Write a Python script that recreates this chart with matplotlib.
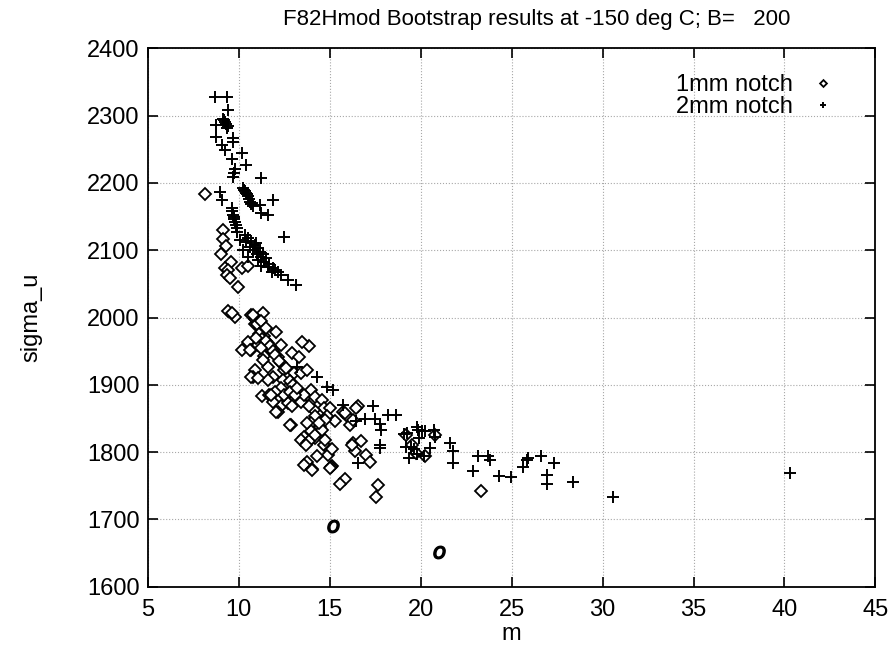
import matplotlib
matplotlib.use("Agg")
import matplotlib.pyplot as plt

plt.rcParams['font.family'] = ['Liberation Sans', 'DejaVu Sans']

# 1mm notch (diamonds)
m_1mm = [8.13, 9.15, 9.12, 9.30, 9.03, 9.55, 9.24, 9.43, 9.34, 9.52, 10.18, 10.51, 9.93,
         9.43, 9.79, 10.69, 11.32, 10.87, 11.14, 12.05, 11.41, 10.51, 10.69, 11.05, 11.60,
         11.78, 12.32, 12.95, 13.31, 11.41, 12.14, 12.32, 11.60, 10.87, 10.78, 11.32, 12.50,
         12.68, 11.87, 11.60, 12.41, 13.04, 13.40, 13.77, 13.86, 13.50, 11.28, 11.68, 12.14,
         12.32, 12.68, 12.95, 13.40, 12.14, 12.86, 13.77, 13.95, 14.20, 14.57, 14.66, 14.13,
         15.03, 15.30, 14.84, 14.20, 13.95, 14.48, 13.95, 13.58, 13.40, 13.77, 14.20, 14.66,
         15.03, 14.93, 14.30, 13.77, 13.58, 15.12, 15.75, 15.93, 16.29, 16.74, 16.38, 17.00,
         17.20, 16.56, 16.47, 15.84, 16.11, 16.29, 16.25, 15.12, 15.06, 14.03, 15.84, 15.57,
         17.68, 17.56, 23.33, 13.85, 14.21, 14.76, 14.58, 13.76, 13.58, 13.86, 14.76, 14.39,
         19.18, 19.72, 20.26, 19.50, 20.80,
         10.90, 11.00, 11.20, 11.10, 11.30, 11.50, 11.70, 11.90, 11.20, 10.95, 11.50, 12.00,
         12.20, 12.60, 12.80, 13.00, 12.30, 12.50, 12.80, 13.10, 13.20, 12.00, 11.90,
         9.60, 10.78, 10.15, 10.60, 10.69, 11.05, 11.78, 12.05, 12.82, 13.67, 14.03, 15.03]
s_1mm = [2184, 2130, 2116, 2106, 2094, 2083, 2073, 2071, 2063, 2058, 2073, 2076, 2045,
         2009, 2001, 2004, 2006, 1991, 1984, 1979, 1972, 1964, 1952, 1959, 1962,
         1952, 1959, 1948, 1941, 1943, 1942, 1932, 1927, 1922, 1912, 1937, 1922,
         1912, 1912, 1907, 1907, 1917, 1917, 1922, 1957, 1964, 1884, 1885, 1878,
         1868, 1873, 1868, 1875, 1860, 1841, 1885, 1893, 1882, 1878, 1865, 1863,
         1865, 1846, 1853, 1853, 1843, 1838, 1831, 1823, 1818, 1813, 1821, 1811,
         1803, 1796, 1794, 1786, 1781, 1779, 1860, 1853, 1813, 1816, 1801, 1796,
         1786, 1868, 1865, 1858, 1841, 1848, 1810, 1805, 1778, 1775, 1760, 1753,
         1751, 1733, 1743, 1817, 1826, 1818, 1833, 1843, 1885, 1868, 1848, 1843,
         1826, 1799, 1794, 1810, 1826,
         1998, 1990, 1995, 1975, 1968, 1965, 1958, 1950, 1955, 1970, 1985, 1945,
         1935, 1925, 1905, 1900, 1895, 1885, 1890, 1885, 1895, 1890, 1875,
         2006, 2004, 1952, 1952, 1912, 1910, 1885, 1860, 1841, 1811, 1774, 1776]

# two 1mm points that came out as italic "o" in the original
m_1mm_o = [15.19, 21.0]
s_1mm_o = [1691, 1652]

# 2mm notch (plus)
m_2mm = [8.70, 9.34, 9.43, 9.15, 9.25, 9.30, 9.40, 9.20, 9.35, 8.76, 8.76, 9.70, 9.70,
         9.07, 9.25, 9.60, 10.15, 10.42, 9.79, 9.70, 9.75, 11.20, 8.97, 9.07,
         10.25, 10.35, 10.40, 10.50, 10.55, 10.60, 10.70, 10.45, 10.30, 10.65, 10.80,
         11.87, 11.14, 11.23, 11.60, 9.60, 9.65, 9.70, 9.75, 9.80, 9.85, 9.72, 9.90,
         9.88, 10.33, 10.51, 10.69, 10.87, 11.05, 11.32, 11.50, 11.68, 11.87, 12.14,
         12.32, 12.68, 13.13, 12.50, 10.06, 10.24, 10.50, 11.05, 11.23, 10.60, 10.80,
         11.00, 11.20, 11.40, 11.60, 11.80, 12.00, 10.40, 10.95, 11.15,
         13.22, 14.30, 14.84, 15.20, 15.75, 17.37, 16.92, 17.47, 18.19, 18.64, 16.47,
         17.74, 17.83, 17.74, 17.74, 16.56, 19.10, 19.27, 19.82, 19.87, 20.08, 20.26,
         20.72, 20.81, 19.90, 19.17, 19.45, 19.63, 19.81, 20.18, 20.54, 19.36, 21.62,
         21.80, 21.80, 22.89, 23.16, 23.70, 23.80, 24.33, 24.96, 25.60, 25.84, 25.91,
         26.64, 27.31, 26.95, 26.92, 28.40, 30.57, 40.30]
s_2mm = [2328, 2328, 2309, 2295, 2291, 2288, 2285, 2293, 2282, 2286, 2268, 2266, 2261,
         2256, 2249, 2236, 2244, 2226, 2221, 2209, 2215, 2208, 2187, 2174,
         2193, 2188, 2185, 2180, 2176, 2172, 2170, 2183, 2190, 2168, 2165,
         2174, 2167, 2155, 2152, 2163, 2158, 2152, 2147, 2142, 2137, 2150, 2133,
         2127, 2123, 2118, 2113, 2108, 2103, 2095, 2088, 2080, 2073, 2068,
         2063, 2056, 2048, 2120, 2115, 2100, 2090, 2085, 2076, 2105, 2100,
         2095, 2090, 2083, 2075, 2068, 2070, 2112, 2110, 2098,
         1927, 1912, 1897, 1893, 1870, 1868, 1849, 1849, 1855, 1855, 1846,
         1842, 1833, 1811, 1806, 1784, 1827, 1829, 1838, 1833, 1831, 1831,
         1833, 1823, 1821, 1808, 1808, 1804, 1798, 1795, 1806, 1791, 1813,
         1801, 1784, 1772, 1794, 1794, 1789, 1764, 1763, 1778, 1789, 1791,
         1795, 1784, 1766, 1752, 1756, 1733, 1769]

x_ticks = [5, 10, 15, 20, 25, 30, 35, 40, 45]
y_ticks = [1600, 1700, 1800, 1900, 2000, 2100, 2200, 2300, 2400]

fig = plt.figure(figsize=(8.96, 6.52), dpi=100)
ax = fig.add_axes([0.165, 0.1, 0.812, 0.826])

ax.plot(m_1mm, s_1mm, linestyle='none', marker='D', markersize=6.3,
        markerfacecolor='white', markeredgecolor='black', markeredgewidth=1.3,
        label='1mm notch')
ax.plot(m_1mm_o, s_1mm_o, linestyle='none', marker='$o$', markersize=9,
        color='black')
ax.plot(m_2mm, s_2mm, linestyle='none', marker='+', markersize=8.5,
        color='black', markeredgewidth=1.4, label='2mm notch')

ax.set_xlim(5, 45)
ax.set_ylim(1600, 2400)
ax.set_xticks(x_ticks)
ax.set_yticks(y_ticks)
ax.tick_params(direction='in', length=7, width=1.2, top=True, right=True,
               labelsize=17)
ax.tick_params(axis='x', pad=9)
ax.tick_params(axis='y', pad=6)
ax.grid(True, linestyle=':', color='#a8a8a8', linewidth=0.8)
for sp in ax.spines.values():
    sp.set_linewidth(1.3)

ax.set_xlabel('m', fontsize=17, labelpad=1)
ax.set_ylabel('sigma_u', fontsize=17, labelpad=32)
ax.set_title('F82Hmod Bootstrap results at -150 deg C; B=   200', fontsize=16,
             pad=17, x=0.535)

leg = ax.legend(loc='upper right', frameon=False, markerfirst=False, fontsize=17,
                markerscale=0.55, handletextpad=0.5, borderaxespad=0.7,
                labelspacing=0.0, handlelength=1.6, bbox_to_anchor=(0.99, 1.0))

fig.savefig('out.png', dpi=100)
